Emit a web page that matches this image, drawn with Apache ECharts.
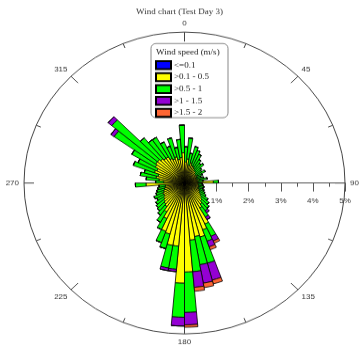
<!DOCTYPE html>
<html>
<head>
<meta charset="utf-8">
<script src="https://cdn.jsdelivr.net/npm/echarts@6/dist/echarts.min.js"></script>
<style>
  html, body { margin: 0; padding: 0; background: #fff; }
  #frame { width: 359px; height: 346px; overflow: hidden; }
  /* the rose is drawn on a taller canvas and flattened into an ellipse */
  #chart { width: 359px; height: 368px; transform: scaleY(0.9402); transform-origin: 0 0; }
</style>
</head>
<body>
<div id="frame"><div id="chart"></div></div>
<script>
// Direction bins, 5 degrees each, clockwise from north
const directions = [
  '0','5','10','15','20','25','30','35','40','45','50','55',
  '60','65','70','75','80','85','90','95','100','105','110','115',
  '120','125','130','135','140','145','150','155','160','165','170','175',
  '180','185','190','195','200','205','210','215','220','225','230','235',
  '240','245','250','255','260','265','270','275','280','285','290','295',
  '300','305','310','315','320','325','330','335','340','345','350','355'
];

// Wind speed classes (m/s)
const speedClasses = ['<=0.1', '>0.1 - 0.5', '>0.5 - 1', '>1 - 1.5', '>1.5 - 2'];
const classColors = ['#0000ff', '#ffff00', '#00ff00', '#9400d3', '#ff6633'];

// Frequency (%) of each speed class per direction bin
const calm = [
  0.10,0.10,0.09,0.09,0.08,0.08,0.08,0.07,0.07,0.07,0.06,0.07,
  0.06,0.06,0.06,0.07,0.06,0.08,0.06,0.06,0.07,0.07,0.07,0.07,
  0.08,0.08,0.08,0.09,0.09,0.10,0.10,0.10,0.11,0.11,0.11,0.12,
  0.12,0.11,0.11,0.10,0.10,0.09,0.09,0.08,0.08,0.08,0.08,0.07,
  0.07,0.07,0.07,0.06,0.06,0.08,0.07,0.08,0.08,0.08,0.09,0.09,
  0.09,0.10,0.10,0.09,0.09,0.09,0.08,0.08,0.08,0.08,0.08,0.09
];
const light = [
  0.60,0.70,0.51,0.61,0.54,0.52,0.47,0.43,0.43,0.38,0.36,0.41,
  0.36,0.34,0.36,0.41,0.36,0.82,0.36,0.38,0.39,0.38,0.41,0.45,
  0.47,0.55,0.62,0.68,0.76,0.85,1.40,1.55,1.74,1.69,1.79,2.83,
  3.20,1.99,1.99,1.65,1.60,1.21,1.01,0.87,0.82,0.77,0.72,0.68,
  0.68,0.63,0.58,0.56,0.54,1.12,0.58,0.72,0.82,0.77,0.91,0.86,
  0.96,1.00,1.00,0.96,0.91,0.91,0.82,0.77,0.82,0.72,0.77,0.91
];
const moderate = [
  0.50,0.70,0.40,0.55,0.53,0.45,0.35,0.30,0.35,0.25,0.23,0.27,
  0.20,0.15,0.20,0.24,0.16,0.16,0.13,0.14,0.16,0.15,0.17,0.18,
  0.22,0.27,0.30,0.32,0.27,0.35,0.45,0.40,0.90,0.95,1.05,1.34,
  1.13,0.77,0.76,0.50,0.40,0.40,0.40,0.35,0.30,0.30,0.30,0.25,
  0.30,0.25,0.25,0.23,0.20,0.33,0.25,0.40,0.50,0.45,0.70,0.65,
  0.85,1.58,1.86,0.90,0.75,0.75,0.60,0.45,0.65,0.40,0.60,0.92
];
const fresh = [
  0,0,0,0,0,0,0,0,0,0,0,0,
  0,0,0,0,0,0,0,0,0,0,0,0,
  0,0,0,0,0.08,0.10,0.17,0.20,0.58,0.62,0.52,0.41,
  0.29,0.08,0.09,0,0,0,0,0,0,0,0,0,
  0,0,0,0,0,0,0,0,0,0,0,0,
  0,0.12,0.15,0,0,0,0,0,0,0,0,0
];
const strong = [
  0,0,0,0,0,0,0,0,0,0,0,0,
  0,0,0,0,0,0,0,0,0,0,0,0,
  0,0,0,0,0,0,0.08,0.10,0.13,0.15,0.13,0.08,
  0,0,0,0,0,0,0,0,0,0,0,0,
  0,0,0,0,0,0,0,0,0,0,0,0,
  0,0,0,0,0,0,0,0,0,0,0,0
];
const classValues = [calm, light, moderate, fresh, strong];

// Radial axis (percent) and compass labels
const radiusTicks = [0, 1, 2, 3, 4, 5];
const compassMajor = 45;

const SY = 0.9402;              // vertical flattening of the canvas
const CX = 184.5, CY = 183 / SY, R = 160.5;
const serif = 'Liberation Serif';
const sans = 'Liberation Sans';

const chart = echarts.init(document.getElementById('chart'), null, { renderer: 'canvas' });

const series = speedClasses.map((name, k) => ({
  name: name,
  type: 'bar',
  coordinateSystem: 'polar',
  polarIndex: 0,
  stack: 'wind',
  barCategoryGap: '0%',
  data: classValues[k],
  itemStyle: { color: classColors[k], borderColor: '#000', borderWidth: 0.8 },
  emphasis: { disabled: true },
  animation: false
}));

chart.setOption({
  animation: false,
  title: {
    text: 'Wind chart (Test Day 3)',
    left: 'center',
    top: 8,
    padding: 0,
    textStyle: { fontFamily: serif, fontSize: 9, fontWeight: 'normal', color: '#333' }
  },
  polar: [
    { center: [CX, CY], radius: R },
    { center: [CX, CY], radius: R }
  ],
  angleAxis: [
    {
      polarIndex: 0,
      type: 'category',
      data: directions,
      startAngle: 90,
      clockwise: true,
      show: false
    },
    {
      polarIndex: 1,
      type: 'value',
      min: 90,
      max: 450,
      interval: compassMajor,
      startAngle: 0,
      clockwise: true,
      axisLine: { show: true, lineStyle: { color: '#444', width: 1 } },
      axisTick: { show: true, inside: true, length: 10, lineStyle: { color: '#444', width: 1 } },
      minorTick: { show: true, splitNumber: 2, length: 5, lineStyle: { color: '#444', width: 1 } },
      axisLabel: {
        show: true,
        margin: 5,
        fontFamily: sans,
        fontSize: 8,
        color: '#333',
        formatter: v => (v >= 450 ? '' : String(v % 360))
      },
      splitLine: { show: false },
      minorSplitLine: { show: false }
    }
  ],
  radiusAxis: [
    {
      polarIndex: 0,
      type: 'value',
      min: radiusTicks[0],
      max: radiusTicks[radiusTicks.length - 1],
      show: false
    },
    {
      polarIndex: 1,
      type: 'value',
      min: radiusTicks[0],
      max: radiusTicks[radiusTicks.length - 1],
      interval: 1,
      axisLine: { show: true, lineStyle: { color: '#555', width: 1 } },
      // negative lengths/margin put ticks and labels below the axis line
      axisTick: { show: true, length: -9, lineStyle: { color: '#555', width: 1 } },
      minorTick: { show: true, splitNumber: 2, length: -4, lineStyle: { color: '#555', width: 1 } },
      axisLabel: {
        show: true,
        margin: -23,
        fontFamily: sans,
        fontSize: 8,
        color: '#333',
        formatter: v => (v === 0 ? '' : v + '%')
      },
      splitLine: { show: false },
      minorSplitLine: { show: false },
      splitArea: { show: false }
    }
  ],
  legend: {
    orient: 'vertical',
    left: 155,
    top: 64,
    padding: 0,
    itemWidth: 15,
    itemHeight: 8.5,
    itemGap: 2.2,
    icon: 'rect',
    selectedMode: false,
    z: 20,
    data: speedClasses,
    textStyle: { fontFamily: serif, fontSize: 9, lineHeight: 10, color: '#222', padding: [0, 0, 0, -2] }
  },
  graphic: [
    {
      type: 'rect',
      z: 10,
      shape: { x: 151, y: 43.5 / SY, width: 77, height: (117.7 - 43.5) / SY, r: 5 },
      style: { fill: '#fff', stroke: '#888', lineWidth: 1 }
    },
    {
      type: 'text',
      z: 11,
      x: 156,
      y: 52 / SY,
      style: {
        text: 'Wind speed (m/s)',
        fontFamily: serif,
        fontSize: 9,
        fill: '#222',
        verticalAlign: 'middle'
      }
    }
  ],
  series: series
});
</script>
</body>
</html>
